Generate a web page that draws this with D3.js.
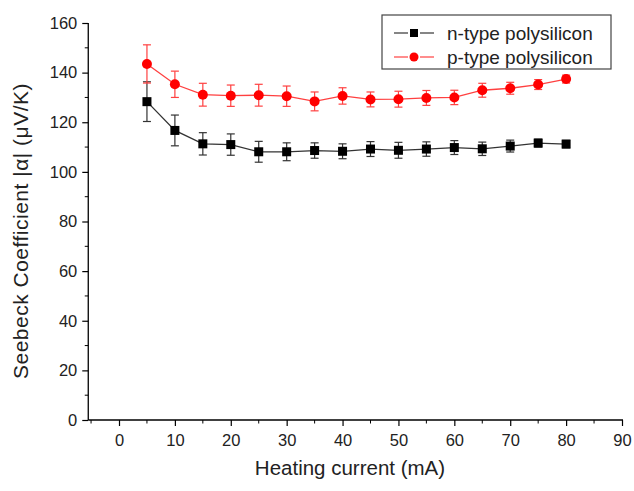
<!DOCTYPE html>
<html><head><meta charset="utf-8">
<script src="https://cdn.jsdelivr.net/npm/d3@7"></script>
<style>body{margin:0;background:#fff}svg{display:block}text{font-family:"Liberation Sans",Arial,sans-serif}</style>
</head><body><svg id="c" width="634" height="491"></svg>
<script>
const current = [5,10,15,20,25,30,35,40,45,50,55,60,65,70,75,80];
const nType = [128.3,116.7,111.3,111.0,108.1,108.1,108.6,108.3,109.2,108.7,109.2,109.8,109.3,110.4,111.6,111.2];
const nErr  = [8,6.2,4.5,4.3,4.2,3.6,3.1,3.0,3.0,3.2,2.9,2.8,2.7,2.4,1.6,1.5];
const pType = [143.5,135.3,131.1,130.7,130.9,130.5,128.4,130.6,129.2,129.3,129.8,130.0,132.9,133.7,135.2,137.4];
const pErr  = [7.7,5.3,4.6,4.3,4.4,4.1,3.8,3.3,3.0,3.2,3.0,2.9,2.8,2.4,2.0,1.6];
const xTicks = [0,10,20,30,40,50,60,70,80,90];
const yTicks = [0,20,40,60,80,100,120,140,160];
const seriesNames = ["n-type polysilicon","p-type polysilicon"];

const svg = d3.select("#c");
const x = d3.scaleLinear().domain([0,90]).range([119,622]);
const y = d3.scaleLinear().domain([0,160]).range([420,23]);
const x0 = x(-5.5);

const g = svg.append("g");
const xAxis = d3.axisBottom(x).tickValues(xTicks).tickSize(6).tickPadding(8).tickSizeOuter(0);
const gx = g.append("g").attr("transform","translate(0,420)").call(xAxis);
gx.select(".domain").remove();
gx.append("line").attr("x1",x0).attr("x2",x(90)+1).attr("stroke","#000").attr("stroke-width",1.3);
const xMinor = d3.range(-5,90,10);
gx.selectAll(".mx").data(xMinor).enter().append("line").attr("x1",d=>x(d)).attr("x2",d=>x(d)).attr("y1",0).attr("y2",3.5).attr("stroke","#000");
gx.selectAll(".tick text").attr("font-size",16.5).attr("fill","#222");
gx.selectAll(".tick line").attr("stroke-width",1.2);

const yAxis = d3.axisLeft(y).tickValues(yTicks).tickSize(6).tickPadding(5).tickSizeOuter(0);
const gy = g.append("g").attr("transform",`translate(${x0},0)`).call(yAxis);
gy.select(".domain").remove();
gy.append("line").attr("y1",y(0)).attr("y2",y(160)).attr("stroke","#000").attr("stroke-width",1.3);
const yMinor = d3.range(10,160,20);
gy.selectAll(".my").data(yMinor).enter().append("line").attr("y1",d=>y(d)).attr("y2",d=>y(d)).attr("x1",0).attr("x2",-3.5).attr("stroke","#000");
gy.selectAll(".tick text").attr("font-size",16.5).attr("fill","#222");
gy.selectAll(".tick line").attr("stroke-width",1.2);

svg.append("text").attr("x",350).attr("y",475).attr("text-anchor","middle").attr("font-size",20.5).attr("fill","#222").text("Heating current (mA)");
svg.append("text").attr("transform","translate(28,231) rotate(-90)").attr("text-anchor","middle").attr("font-size",21).attr("letter-spacing",0.5).attr("fill","#222").text("Seebeck Coefficient |α| (μV/K)");

function drawSeries(vals, errs, lineCol, errCol, markCol, shape){
  const sg = svg.append("g");
  sg.append("path").datum(vals).attr("fill","none").attr("stroke",lineCol).attr("stroke-width",1.3)
    .attr("d", d3.line().x((d,i)=>x(current[i])).y(d=>y(d)));
  current.forEach((c,i)=>{
    const cx=x(c), top=y(vals[i]+errs[i]), bot=y(vals[i]-errs[i]);
    sg.append("line").attr("x1",cx).attr("x2",cx).attr("y1",top).attr("y2",bot).attr("stroke",errCol).attr("stroke-width",1.2);
    [top,bot].forEach(yy=>sg.append("line").attr("x1",cx-4).attr("x2",cx+4).attr("y1",yy).attr("y2",yy).attr("stroke",errCol).attr("stroke-width",1.2));
  });
  current.forEach((c,i)=>{
    if(shape==="square") sg.append("rect").attr("x",x(c)-4.5).attr("y",y(vals[i])-4.5).attr("width",9).attr("height",9).attr("fill",markCol);
    else sg.append("circle").attr("cx",x(c)).attr("cy",y(vals[i])).attr("r",5).attr("fill",markCol);
  });
}
drawSeries(nType,nErr,"#333","#333","#000","square");
drawSeries(pType,pErr,"#ff4040","#ff4040","#ff0000","circle");

const lg = svg.append("g");
lg.append("rect").attr("x",382).attr("y",15).attr("width",229).attr("height",54).attr("fill","#fff").attr("stroke","#444").attr("stroke-width",1.2);
const rows=[{y:33,col:"#333",m:"#000",shape:"square"},{y:57,col:"#ff4040",m:"#ff0000",shape:"circle"}];
rows.forEach((r,i)=>{
  lg.append("line").attr("x1",394).attr("x2",408).attr("y1",r.y).attr("y2",r.y).attr("stroke",r.col).attr("stroke-width",1.2);
  lg.append("line").attr("x1",420).attr("x2",434).attr("y1",r.y).attr("y2",r.y).attr("stroke",r.col).attr("stroke-width",1.2);
  if(r.shape==="square") lg.append("rect").attr("x",410).attr("y",r.y-4).attr("width",8).attr("height",8).attr("fill",r.m);
  else lg.append("circle").attr("cx",414).attr("cy",r.y).attr("r",4.5).attr("fill",r.m);
  lg.append("text").attr("x",447).attr("y",r.y+6.5).attr("font-size",19).attr("fill","#222").text(seriesNames[i]);
});
</script></body></html>
